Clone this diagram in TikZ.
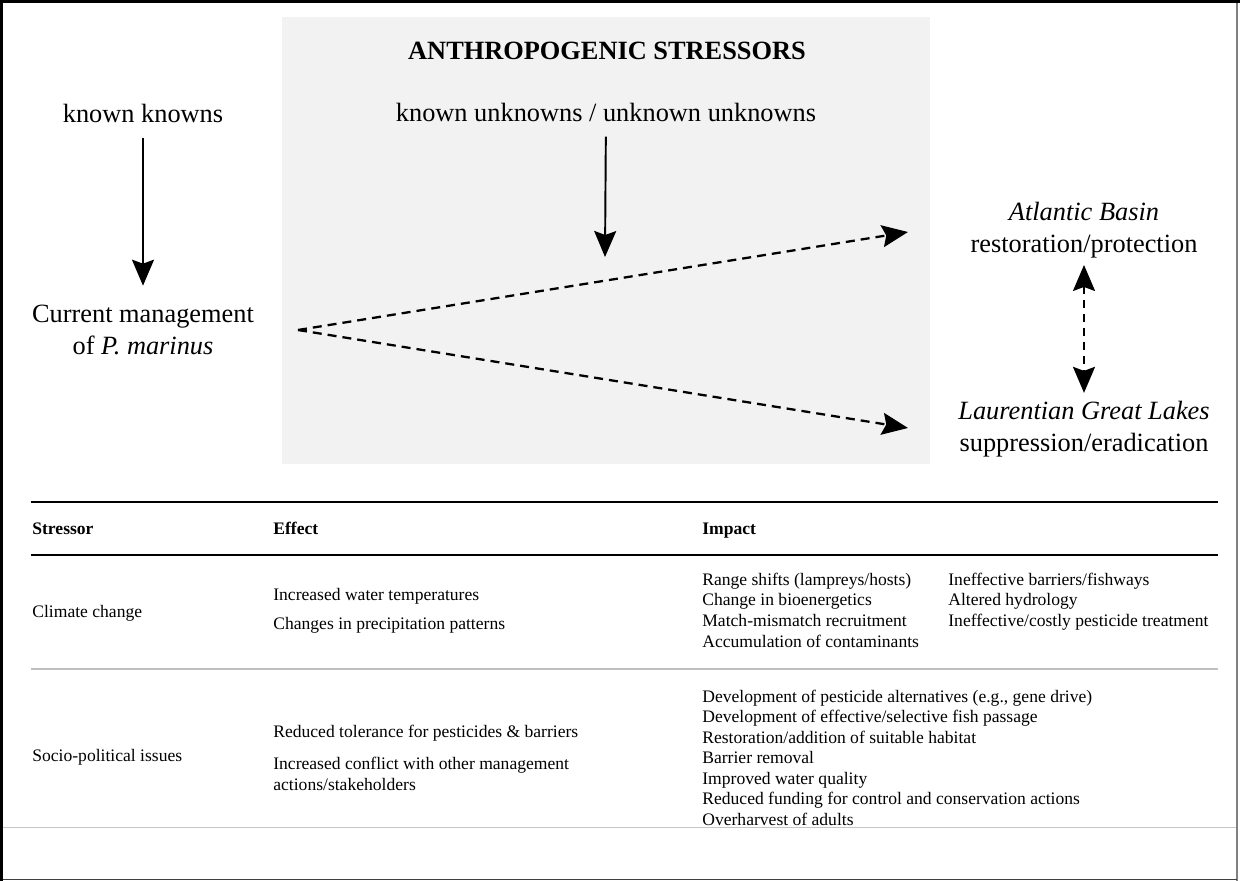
\documentclass[tikz,border=0pt]{standalone}
\usepackage{fontspec}
\setmainfont{Liberation Serif}
\usetikzlibrary{arrows.meta}

\definecolor{boxgray}{HTML}{F2F2F2}
\definecolor{rulegray}{HTML}{BFBFBF}

\begin{document}
\begin{tikzpicture}[x=0.02cm,y=-0.02cm]
  \tikzset { big/.style = { font=\fontsize{15}{18.5}\selectfont, align=center, inner sep=0pt, anchor=base } }
  \tikzset { cell/.style = { font=\fontsize{10}{11.8}\selectfont, align=left, inner sep=0pt, anchor=base west } }
  \tikzset { head/.style = { cell, font=\fontsize{10}{11.8}\selectfont\bfseries } }
  \tikzset { edge/.style = { ->, >={Stealth[length=0.52cm,width=0.44cm,inset=0.08cm]}, line width=1.1pt } }
  \tikzset { dedge/.style = { edge, line width=1.3pt, dash pattern=on 0.18cm off 0.12cm } }

  \useasboundingbox (0,0) rectangle (1247,881);
  \fill[boxgray] (282,17) rectangle (930,464);

  % upper part
  \node[big, font=\fontsize{15}{18.5}\selectfont\bfseries] (title) at (607,60) {ANTHROPOGENIC STRESSORS};
  \node[big] (kk) at (143,123) {known knowns};
  \node[big] (ku) at (606,122) {known unknowns / unknown unknowns};
  \node[big] (mgmt) at (143,355) {Current management\\of \textit{P. marinus}};
  \node[big] (atl) at (1084,253) {\textit{Atlantic Basin}\\restoration/protection};
  \node[big] (lgl) at (1084,452) {\textit{Laurentian Great Lakes}\\suppression/eradication};

  \coordinate (kuend) at (605,257);
  \coordinate (fork) at (298,330);
  \coordinate (atlin) at (908,232);
  \coordinate (lglin) at (908,428);

  \draw[edge, shorten <=0.28cm, shorten >=0.38cm] (kk) -- (mgmt);
  \draw[edge, shorten <=0.28cm] (ku) -- (kuend);
  \draw[dedge] (fork) -- (atlin);
  \draw[dedge] (fork) -- (lglin);
  \draw[dedge, <->, dash pattern=on 0.16cm off 0.12cm, shorten <=0.12cm, shorten >=0.16cm] (atl) -- (lgl);

  % table
  \draw[line width=1.1pt] (31,502) -- (1218,502);
  \draw[line width=1.1pt] (31,555) -- (1218,555);
  \draw[rulegray, line width=1.1pt] (31,669) -- (1218,669);

  \node[head] (hs) at (32,534) {Stressor};
  \node[head] (he) at (273,534) {Effect};
  \node[head] (hi) at (702,534) {Impact};

  \node[cell] (cc) at (32,617) {Climate change};
  \node[cell] (cc1) at (273,600) {Increased water temperatures};
  \node[cell] (cc2) at (273,629) {Changes in precipitation patterns};
  \foreach \txt [count=\i from 0] in {Range shifts (lampreys/hosts), Change in bioenergetics,
      Match-mismatch recruitment, Accumulation of contaminants}
    \node[cell] (cca\i) at (702,{585+20.8*\i}) {\txt};
  \foreach \txt [count=\i from 0] in {Ineffective barriers/fishways, Altered hydrology,
      Ineffective/costly pesticide treatment}
    \node[cell] (ccb\i) at (948,{585+20.8*\i}) {\txt};

  \node[cell] (sp) at (32,761) {Socio-political issues};
  \node[cell] (sp1) at (273,737) {Reduced tolerance for pesticides \& barriers};
  \node[cell] (sp2) at (273,790) {Increased conflict with other management\\actions/stakeholders};
  \foreach \txt [count=\i from 0] in {{Development of pesticide alternatives (e.g., gene drive)},
      Development of effective/selective fish passage, Restoration/addition of suitable habitat,
      Barrier removal, Improved water quality, Reduced funding for control and conservation actions,
      Overharvest of adults}
    \node[cell] (spa\i) at (702,{702+20.5*\i}) {\txt};

  % frame
  \fill[white] (0,828) rectangle (1237,879);
  \draw[gray!45, line width=0.6pt] (0,827.5) -- (1237,827.5);
  \draw[gray, line width=0.6pt] (1237,0) -- (1237,881);
  \draw[black!75, line width=0.9pt] (0,879.5) -- (1237,879.5);
  \draw[line width=1.8pt] (0,1.5) -- (1240,1.5);
  \draw[line width=1.8pt] (1.5,0) -- (1.5,881);

\end{tikzpicture}
\end{document}
